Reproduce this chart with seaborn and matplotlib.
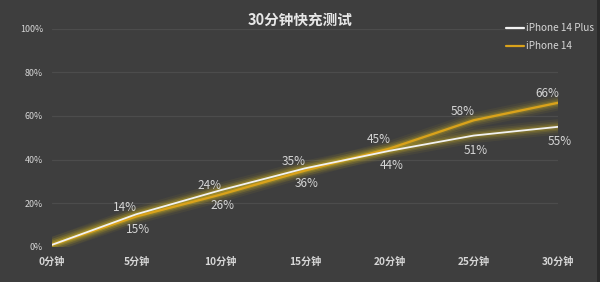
import matplotlib
matplotlib.use("Agg")
import matplotlib.pyplot as plt
import seaborn as sns
import pandas as pd
from matplotlib.patches import Rectangle

# ---- data ----
minutes = [0, 5, 10, 15, 20, 25, 30]
x_labels = ["0分钟", "5分钟", "10分钟", "15分钟", "20分钟", "25分钟", "30分钟"]
plus_values = [1, 15, 26, 36, 44, 51, 55]      # iPhone 14 Plus (white)
base_values = [1, 14, 24, 35, 45, 58, 66]      # iPhone 14 (gold)
series_names = ["iPhone 14 Plus", "iPhone 14"]
y_ticks = [0, 20, 40, 60, 80, 100]
y_tick_labels = ["0%", "20%", "40%", "60%", "80%", "100%"]
title = "30分钟快充测试"

BG = "#3e3e3e"
GRID = "#4c4c4c"
WHITE = "#f2f2f2"
GOLD = "#d9a21b"
GLOW = "#e0c020"
TXT = "#d6d6d6"

sns.set_theme(style="dark")
plt.rcParams["font.family"] = ["Noto Sans CJK SC", "DejaVu Sans"]

df = pd.DataFrame({
    "minute": minutes * 2,
    "value": plus_values + base_values,
    "series": [series_names[0]] * len(minutes) + [series_names[1]] * len(minutes),
})

fig = plt.figure(figsize=(6.0, 2.82), dpi=100, facecolor=BG)
ax = fig.add_axes([52 / 600, 1 - 247 / 282, 506 / 600, (247 - 28.5) / 282])
ax.set_facecolor(BG)

# glow
for lw, a in [(11, 0.06), (8, 0.09), (5.5, 0.13), (3.5, 0.18)]:
    sns.lineplot(data=df, x="minute", y="value", hue="series",
                 palette={series_names[0]: GLOW, series_names[1]: GLOW},
                 linewidth=lw, alpha=a, legend=False, ax=ax, sort=False)

sns.lineplot(data=df[df.series == series_names[1]], x="minute", y="value",
             color=GOLD, linewidth=1.7, ax=ax, legend=False, sort=False)
sns.lineplot(data=df[df.series == series_names[0]], x="minute", y="value",
             color=WHITE, linewidth=1.3, ax=ax, legend=False, sort=False)

ax.set_xlim(0, 30)
ax.set_ylim(0, 100)
ax.set_xticks(minutes)
ax.set_xticklabels(x_labels, fontsize=7.3, color=TXT, fontweight="bold")
ax.set_yticks(y_ticks)
ax.set_yticklabels(y_tick_labels, fontsize=6.4, color=TXT)
ax.tick_params(axis="x", length=0, pad=7)
ax.tick_params(axis="y", length=0, pad=6.5)
ax.set_xlabel("")
ax.set_ylabel("")
ax.grid(axis="y", color=GRID, linewidth=0.9)
ax.grid(axis="x", visible=False)
ax.yaxis.get_gridlines()[0].set_visible(False)
for s in ax.spines.values():
    s.set_visible(False)

# value labels
for m, v in zip(minutes[1:], base_values[1:]):
    ax.annotate(f"{v}%", (m, v), xytext=(-11, 9), textcoords="offset pixels",
                ha="center", va="center", fontsize=8.5, color=TXT)
for m, v in zip(minutes[1:], plus_values[1:]):
    ax.annotate(f"{v}%", (m, v), xytext=(2, -15), textcoords="offset pixels",
                ha="center", va="center", fontsize=8.5, color=TXT)

fig.text(0.5, 1 - 20 / 282, title, ha="center", va="center",
         fontsize=10.5, fontweight="bold", color="#e6e6e6")

handles = [plt.Line2D([], [], color=WHITE, linewidth=1.6),
           plt.Line2D([], [], color=GOLD, linewidth=1.6)]
leg = fig.legend(handles, series_names, loc="upper right",
                 bbox_to_anchor=(594 / 600, 1 - 23 / 282), frameon=False,
                 fontsize=7.2, handlelength=1.8, handletextpad=0.25,
                 labelspacing=0.8, borderpad=0, borderaxespad=0)
for t in leg.get_texts():
    t.set_color(TXT)

fig.patches.append(Rectangle((597 / 600, 0), 3 / 600, 1, transform=fig.transFigure,
                             facecolor="#2a2a2a", edgecolor="none"))

fig.savefig("out.png", dpi=100, facecolor=BG)
